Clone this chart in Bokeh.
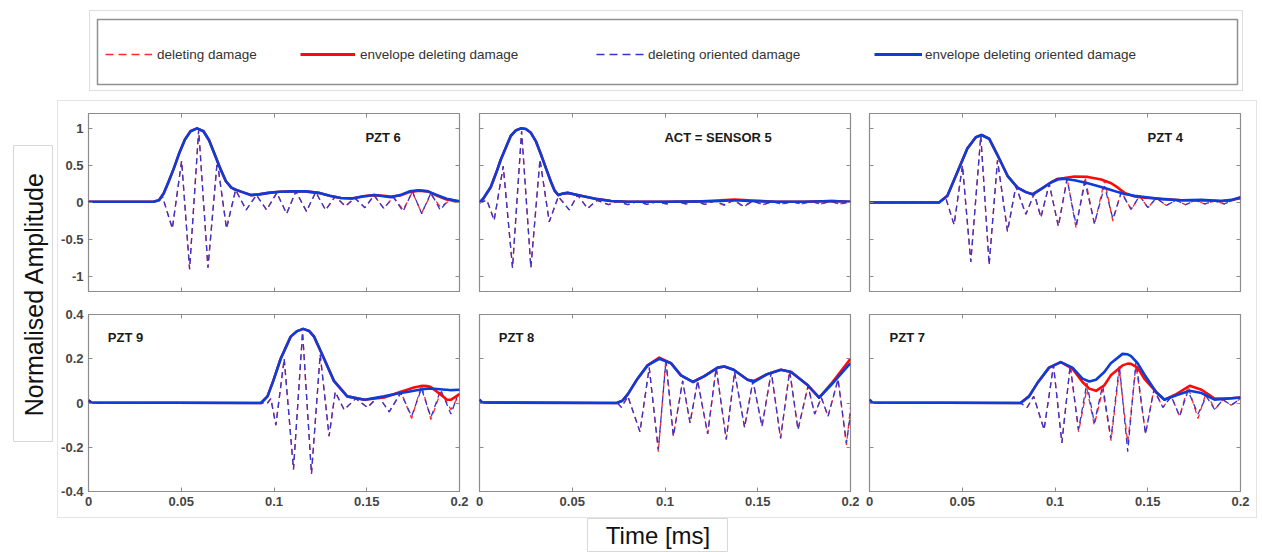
import math
from bokeh.plotting import figure
from bokeh.models import (Range1d, LinearAxis, FixedTicker, NumeralTickFormatter, Label,
                          Legend, LegendItem, Spacer, ColumnDataSource)
from bokeh.layouts import row, column
from bokeh.embed import file_html
from bokeh.resources import INLINE

# ---------------- data ----------------
X_TICKS = [0, 0.05, 0.1, 0.15, 0.2]
Y_TICKS_TOP = [-1, -0.5, 0, 0.5, 1]
Y_TICKS_BOTTOM = [-0.4, -0.2, 0, 0.2, 0.4]
LEGEND_LABELS = ["deleting damage", "envelope deleting damage",
                 "deleting oriented damage", "envelope deleting oriented damage"]
PANEL_TITLES = ["PZT 6", "ACT = SENSOR 5", "PZT 4", "PZT 9", "PZT 8", "PZT 7"]

# PZT 6
PZT6_ENV_T = [0, 0.035, 0.038, 0.0405, 0.043, 0.046, 0.049, 0.052, 0.055, 0.0585, 0.062, 0.065, 0.068,
              0.071, 0.074, 0.077, 0.079, 0.083, 0.0875, 0.092, 0.097, 0.103, 0.110, 0.117, 0.124, 0.130,
              0.136, 0.142, 0.148, 0.154, 0.159, 0.163, 0.168, 0.173, 0.178, 0.183, 0.188, 0.193, 0.2]
PZT6_ENV_BLUE = [0.01, 0.01, 0.03, 0.12, 0.27, 0.46, 0.67, 0.85, 0.96, 1.0, 0.96, 0.84, 0.65, 0.46, 0.29,
                 0.2, 0.175, 0.14, 0.1, 0.11, 0.13, 0.145, 0.15, 0.15, 0.13, 0.09, 0.06, 0.055, 0.08, 0.1,
                 0.085, 0.07, 0.1, 0.15, 0.165, 0.15, 0.1, 0.05, 0.015]
PZT6_ENV_RED = [0.01, 0.01, 0.03, 0.12, 0.27, 0.46, 0.67, 0.85, 0.96, 1.0, 0.96, 0.84, 0.65, 0.46, 0.29,
                0.2, 0.175, 0.14, 0.1, 0.11, 0.13, 0.145, 0.15, 0.15, 0.13, 0.09, 0.06, 0.055, 0.085, 0.1,
                0.09, 0.08, 0.095, 0.14, 0.16, 0.15, 0.09, 0.04, 0.01]
PZT6_SIG_T = [0, 0.036, 0.0400, 0.0452, 0.0502, 0.0545, 0.0594, 0.0644, 0.0694, 0.0744, 0.0793, 0.0850,
              0.0905, 0.0960, 0.1015, 0.1068, 0.1118, 0.1175, 0.1225, 0.1278, 0.1330, 0.1385, 0.1435,
              0.1490, 0.1540, 0.1592, 0.1644, 0.1696, 0.1746, 0.1796, 0.1846, 0.1896, 0.1946, 0.2]
PZT6_SIG_BLUE = [0.01, 0.01, 0.07, -0.35, 0.56, -0.90, 0.98, -0.88, 0.56, -0.35, 0.17, -0.10, 0.10, -0.10,
                 0.13, -0.15, 0.15, -0.12, 0.14, -0.10, 0.08, -0.05, 0.06, -0.07, 0.10, -0.08, 0.07, -0.12,
                 0.15, -0.15, 0.13, -0.10, 0.05, 0.01]
PZT6_SIG_RED = [0.01, 0.01, 0.07, -0.35, 0.56, -0.90, 0.98, -0.88, 0.56, -0.35, 0.17, -0.10, 0.10, -0.10,
                0.13, -0.15, 0.15, -0.12, 0.14, -0.10, 0.08, -0.05, 0.06, -0.07, 0.09, -0.08, 0.08, -0.10,
                0.14, -0.14, 0.11, -0.06, 0.02, 0.0]

# ACT = SENSOR 5
ACT5_ENV_T = [0, 0.002, 0.0061, 0.009, 0.0115, 0.0145, 0.0169, 0.0195, 0.0223, 0.025, 0.0277, 0.0305,
              0.0331, 0.036, 0.0385, 0.0405, 0.0425, 0.045, 0.0475, 0.051, 0.0547, 0.0637, 0.0709, 0.08,
              0.10, 0.12, 0.13, 0.1375, 0.145, 0.16, 0.175, 0.19, 0.2]
ACT5_ENV_BLUE = [0, 0.05, 0.21, 0.40, 0.58, 0.76, 0.90, 0.97, 1.0, 0.99, 0.94, 0.82, 0.65, 0.45, 0.28,
                 0.16, 0.10, 0.12, 0.13, 0.11, 0.09, 0.045, 0.02, 0.01, 0.01, 0.015, 0.02, 0.03, 0.02,
                 0.01, 0.01, 0.02, 0.01]
ACT5_ENV_RED = [0, 0.05, 0.21, 0.40, 0.58, 0.76, 0.90, 0.97, 1.0, 0.99, 0.94, 0.82, 0.65, 0.45, 0.28,
                0.16, 0.10, 0.12, 0.13, 0.11, 0.09, 0.045, 0.02, 0.01, 0.01, 0.015, 0.03, 0.04, 0.03,
                0.01, 0.01, 0.02, 0.01]
ACT5_SIG_T = [0, 0.004, 0.0079, 0.0128, 0.0178, 0.0227, 0.0277, 0.0326, 0.0376, 0.0425, 0.0484, 0.0529,
              0.0583, 0.0634, 0.0695, 0.0747, 0.0799, 0.0851, 0.0903, 0.0955, 0.1007, 0.1059, 0.1111,
              0.1163, 0.1215, 0.1267, 0.1319, 0.1371, 0.1423, 0.1475, 0.1527, 0.1579, 0.1631, 0.1683,
              0.1735, 0.1787, 0.1839, 0.1891, 0.1943, 0.2]
ACT5_SIG_BLUE = [0.0, 0.03, -0.24, 0.49, -0.88, 0.96, -0.88, 0.58, -0.26, 0.08, -0.10, 0.10, -0.08, 0.03,
                 -0.03, 0.015, -0.03, 0.015, -0.025, 0.01, -0.02, 0.015, -0.02, 0.015, -0.025, 0.02, -0.03,
                 0.03, -0.05, 0.02, -0.03, 0.01, -0.02, 0.01, -0.02, 0.015, -0.02, 0.015, -0.02, 0.01]
ACT5_SIG_RED = [0.0, 0.03, -0.24, 0.49, -0.88, 0.96, -0.88, 0.58, -0.26, 0.08, -0.10, 0.10, -0.08, 0.03,
                -0.03, 0.015, -0.03, 0.015, -0.025, 0.01, -0.02, 0.015, -0.02, 0.015, -0.025, 0.02, -0.04,
                0.035, -0.06, 0.02, -0.03, 0.01, -0.02, 0.01, -0.02, 0.015, -0.02, 0.015, -0.02, 0.01]

# PZT 4
PZT4_ENV_T = [0, 0.0375, 0.042, 0.0474, 0.0528, 0.0573, 0.0604, 0.0645, 0.069, 0.0744, 0.0798, 0.0843,
              0.0879, 0.0924, 0.0978, 0.1015, 0.105, 0.1105, 0.1177, 0.1249, 0.1303, 0.1339, 0.1375,
              0.1429, 0.1483, 0.1573, 0.1681, 0.1789, 0.1897, 0.1951, 0.2]
PZT4_ENV_BLUE = [0.0, 0.0, 0.09, 0.41, 0.73, 0.88, 0.91, 0.86, 0.64, 0.36, 0.2, 0.14, 0.11, 0.18, 0.27,
                 0.31, 0.32, 0.30, 0.26, 0.21, 0.17, 0.14, 0.115, 0.09, 0.075, 0.045, 0.03, 0.035, 0.02,
                 0.035, 0.07]
PZT4_ENV_RED = [0.0, 0.0, 0.09, 0.41, 0.73, 0.88, 0.91, 0.86, 0.64, 0.36, 0.2, 0.14, 0.11, 0.18, 0.27,
                0.32, 0.33, 0.35, 0.345, 0.31, 0.26, 0.2, 0.13, 0.08, 0.065, 0.05, 0.03, 0.03, 0.02, 0.03,
                0.06]
PZT4_SIG_T = [0, 0.0375, 0.0410, 0.0456, 0.0501, 0.0546, 0.0600, 0.0645, 0.0690, 0.0744, 0.0789, 0.0843,
              0.0888, 0.0924, 0.0969, 0.1018, 0.1065, 0.1114, 0.1162, 0.1213, 0.1267, 0.1312, 0.1357,
              0.1411, 0.1456, 0.1501, 0.1546, 0.1600, 0.1652, 0.1704, 0.1756, 0.1808, 0.1860, 0.1912,
              0.1964, 0.2]
PZT4_SIG_BLUE = [0, 0, 0.07, -0.30, 0.50, -0.80, 0.90, -0.84, 0.57, -0.39, 0.22, -0.16, 0.12, -0.20, 0.25,
                 -0.32, 0.31, -0.30, 0.27, -0.28, 0.22, -0.22, 0.13, -0.09, 0.09, -0.07, 0.06, -0.04, 0.03,
                 -0.03, 0.03, -0.02, 0.02, -0.02, 0.04, 0.05]
PZT4_SIG_RED = [0, 0, 0.07, -0.30, 0.50, -0.80, 0.90, -0.84, 0.57, -0.39, 0.22, -0.16, 0.12, -0.20, 0.25,
                -0.32, 0.33, -0.35, 0.34, -0.30, 0.30, -0.25, 0.15, -0.10, 0.09, -0.07, 0.06, -0.04, 0.03,
                -0.03, 0.03, -0.02, 0.02, -0.02, 0.04, 0.05]

# PZT 9
PZT9_ENV_T = [0, 0.0015, 0.093, 0.0965, 0.0996, 0.1036, 0.109, 0.1125, 0.1157, 0.119, 0.1216, 0.127,
              0.1323, 0.1395, 0.1488, 0.1593, 0.168, 0.1718, 0.1754, 0.18, 0.1826, 0.1845, 0.188, 0.1925,
              0.1933, 0.1955, 0.2]
PZT9_ENV_BLUE = [0.012, 0.002, 0.0, 0.03, 0.1, 0.2, 0.3, 0.325, 0.335, 0.325, 0.3, 0.2, 0.1, 0.03, 0.015,
                 0.03, 0.045, 0.05, 0.055, 0.062, 0.065, 0.065, 0.063, 0.06, 0.06, 0.058, 0.06]
PZT9_ENV_RED = [0.012, 0.002, 0.0, 0.03, 0.1, 0.2, 0.3, 0.325, 0.335, 0.325, 0.3, 0.2, 0.1, 0.03, 0.015,
                0.025, 0.05, 0.06, 0.07, 0.078, 0.077, 0.072, 0.05, 0.02, 0.015, 0.015, 0.04]
PZT9_SIG_T = [0, 0.0015, 0.0965, 0.0983, 0.1010, 0.1055, 0.1105, 0.1154, 0.1202, 0.1249, 0.1297, 0.1330,
              0.1378, 0.1441, 0.1504, 0.1563, 0.1621, 0.1684, 0.1742, 0.1795, 0.1846, 0.1899, 0.1954, 0.2]
PZT9_SIG_BLUE = [0.012, 0.0, 0.0, 0.02, -0.10, 0.20, -0.30, 0.32, -0.32, 0.22, -0.15, 0.05, -0.03, 0.02,
                 -0.02, 0.03, -0.04, 0.045, -0.06, 0.065, -0.065, 0.06, -0.05, 0.06]
PZT9_SIG_RED = [0.012, 0.0, 0.0, 0.02, -0.10, 0.20, -0.30, 0.32, -0.32, 0.22, -0.15, 0.05, -0.03, 0.02,
                -0.02, 0.03, -0.04, 0.05, -0.07, 0.08, -0.075, 0.05, -0.03, 0.04]

# PZT 8
PZT8_ENV_T = [0, 0.0015, 0.074, 0.077, 0.080, 0.0852, 0.0906, 0.0969, 0.1032, 0.1086, 0.115, 0.121,
              0.1284, 0.132, 0.137, 0.1445, 0.148, 0.155, 0.1625, 0.168, 0.177, 0.1831, 0.1894, 0.2]
PZT8_ENV_BLUE = [0.015, 0.002, 0.0, 0.01, 0.04, 0.11, 0.17, 0.2, 0.18, 0.125, 0.095, 0.12, 0.16, 0.165,
                 0.15, 0.105, 0.095, 0.13, 0.15, 0.14, 0.08, 0.024, 0.08, 0.18]
PZT8_ENV_RED = [0.015, 0.002, 0.0, 0.01, 0.04, 0.11, 0.17, 0.205, 0.18, 0.125, 0.095, 0.12, 0.16, 0.165,
                0.15, 0.105, 0.1, 0.13, 0.15, 0.14, 0.08, 0.024, 0.085, 0.2]
PZT8_SIG_T = [0, 0.0015, 0.0744, 0.0765, 0.0800, 0.0865, 0.0915, 0.0964, 0.1005, 0.1045, 0.1095, 0.1135,
              0.1176, 0.1230, 0.1276, 0.1330, 0.1375, 0.1429, 0.1474, 0.1523, 0.1573, 0.1623, 0.1672,
              0.1717, 0.1771, 0.1807, 0.1843, 0.1879, 0.1933, 0.1978, 0.2]
PZT8_SIG_BLUE = [0.015, 0.0, 0.0, -0.02, 0.03, -0.13, 0.16, -0.21, 0.19, -0.15, 0.10, -0.09, 0.10, -0.14,
                 0.16, -0.165, 0.14, -0.11, 0.10, -0.105, 0.14, -0.16, 0.145, -0.12, 0.077, -0.05, 0.024,
                 -0.06, 0.107, -0.18, -0.05]
PZT8_SIG_RED = [0.015, 0.0, 0.0, -0.02, 0.03, -0.13, 0.16, -0.22, 0.20, -0.15, 0.10, -0.09, 0.10, -0.14,
                0.16, -0.165, 0.14, -0.11, 0.10, -0.105, 0.14, -0.16, 0.145, -0.12, 0.077, -0.05, 0.024,
                -0.06, 0.107, -0.19, -0.02]

# PZT 7
PZT7_ENV_T = [0, 0.0015, 0.0814, 0.086, 0.0905, 0.0968, 0.1031, 0.1094, 0.1148, 0.1185, 0.1221, 0.1266,
              0.1301, 0.1364, 0.1392, 0.141, 0.1445, 0.1481, 0.1545, 0.159, 0.1654, 0.1726, 0.179, 0.186,
              0.1934, 0.2]
PZT7_ENV_BLUE = [0.015, 0.002, 0.0, 0.03, 0.09, 0.16, 0.185, 0.16, 0.11, 0.097, 0.105, 0.14, 0.18, 0.222,
                 0.22, 0.212, 0.18, 0.13, 0.05, 0.015, 0.035, 0.055, 0.045, 0.015, 0.02, 0.025]
PZT7_ENV_RED = [0.015, 0.002, 0.0, 0.03, 0.09, 0.16, 0.185, 0.155, 0.095, 0.065, 0.055, 0.08, 0.125, 0.17,
                0.178, 0.177, 0.16, 0.11, 0.05, 0.015, 0.04, 0.078, 0.06, 0.02, 0.02, 0.025]
PZT7_SIG_T = [0, 0.0015, 0.0814, 0.0850, 0.0885, 0.0941, 0.0992, 0.1037, 0.1082, 0.1127, 0.1172, 0.1212,
              0.1257, 0.1302, 0.1347, 0.1392, 0.1437, 0.1488, 0.1533, 0.1582, 0.1627, 0.1672, 0.1717,
              0.1771, 0.1816, 0.1861, 0.1905, 0.1950, 0.2]
PZT7_SIG_BLUE = [0.015, 0.0, 0.0, -0.02, 0.03, -0.12, 0.17, -0.18, 0.17, -0.12, 0.09, -0.09, 0.08, -0.16,
                 0.17, -0.22, 0.19, -0.14, 0.06, -0.02, 0.03, -0.06, 0.055, -0.05, 0.03, -0.03, 0.015,
                 -0.01, 0.02]
PZT7_SIG_RED = [0.015, 0.0, 0.0, -0.02, 0.03, -0.12, 0.17, -0.18, 0.17, -0.13, 0.065, -0.10, 0.06, -0.17,
                0.15, -0.18, 0.17, -0.14, 0.06, -0.02, 0.03, -0.06, 0.075, -0.07, 0.05, -0.03, 0.015,
                -0.01, 0.02]

# ---------------- styling ----------------
FONT = "Liberation Sans"
RED_DASH = "#ff2a2a"
BLUE_DASH = "#3535d2"
RED_ENV = "#ff0a0a"
BLUE_ENV = "#0c3dd8"
FRAME = "#8c8c8c"
TICKLBL = "#454545"
DASH = "6 4"

FW = 371


def make_axis(ticks, fmt, show):
    ax = LinearAxis(ticker=FixedTicker(ticks=ticks), formatter=NumeralTickFormatter(format=fmt))
    ax.axis_line_color = None
    ax.major_tick_in = 4
    ax.major_tick_out = 0
    ax.major_tick_line_color = FRAME
    ax.major_tick_line_width = 1
    ax.minor_tick_line_color = None
    ax.major_label_standoff = 5
    ax.major_label_text_font = FONT
    ax.major_label_text_font_style = "bold"
    ax.major_label_text_color = TICKLBL
    if show:
        ax.major_label_text_font_size = "13px"
    else:
        ax.major_label_text_font_size = "0px"
        ax.major_label_text_alpha = 0
        ax.major_label_standoff = 0
    return ax


def make_panel(title, title_xy, env_t, env_b, env_r, sig_t, sig_b, sig_r, top_row, col):
    yr = (-1.2, 1.2) if top_row else (-0.4, 0.4)
    yticks = Y_TICKS_TOP if top_row else Y_TICKS_BOTTOM
    bl = [30, 10, 10][col]
    br = [10, 9, 16][col]
    if top_row:
        bt, fh, bb = 12, 178, 11
    else:
        bt, fh, bb = 12, 177, 26
    p = figure(frame_width=FW, frame_height=fh, min_border_left=bl, min_border_right=br,
               min_border_top=bt, min_border_bottom=bb, x_range=Range1d(0, 0.2), y_range=Range1d(*yr),
               x_axis_type=None, y_axis_type=None, output_backend="svg", toolbar_location=None)
    p.outline_line_color = FRAME
    p.outline_line_width = 1.2
    p.background_fill_color = "white"
    p.border_fill_color = "white"
    p.add_layout(make_axis(X_TICKS, "0.[00]", not top_row), "below")
    p.add_layout(make_axis(X_TICKS, "0.[00]", False), "above")
    p.add_layout(make_axis(yticks, "0.[0]", col == 0), "left")
    p.add_layout(make_axis(yticks, "0.[0]", False), "right")

    s = ColumnDataSource(dict(t=sig_t, b=sig_b, r=sig_r))
    e = ColumnDataSource(dict(t=env_t, b=env_b, r=env_r))
    p.line("t", "r", source=s, line_color=RED_DASH, line_width=1.3, line_dash=DASH)
    p.line("t", "b", source=s, line_color=BLUE_DASH, line_width=1.3, line_dash=DASH)
    p.line("t", "r", source=e, line_color=RED_ENV, line_width=2.6, line_join="round")
    p.line("t", "b", source=e, line_color=BLUE_ENV, line_width=2.6, line_join="round")

    p.add_layout(Label(x=title_xy[0], y=title_xy[1], text=title, text_font=FONT,
                       text_font_style="bold", text_font_size="13px", text_color="#1a1a1a",
                       text_baseline="middle", text_align="left"))
    return p


p1 = make_panel(PANEL_TITLES[0], (0.1493, 0.87), PZT6_ENV_T, PZT6_ENV_BLUE, PZT6_ENV_RED,
                PZT6_SIG_T, PZT6_SIG_BLUE, PZT6_SIG_RED, True, 0)
p2 = make_panel(PANEL_TITLES[1], (0.0997, 0.87), ACT5_ENV_T, ACT5_ENV_BLUE, ACT5_ENV_RED,
                ACT5_SIG_T, ACT5_SIG_BLUE, ACT5_SIG_RED, True, 1)
p3 = make_panel(PANEL_TITLES[2], (0.1499, 0.87), PZT4_ENV_T, PZT4_ENV_BLUE, PZT4_ENV_RED,
                PZT4_SIG_T, PZT4_SIG_BLUE, PZT4_SIG_RED, True, 2)
p4 = make_panel(PANEL_TITLES[3], (0.0104, 0.295), PZT9_ENV_T, PZT9_ENV_BLUE, PZT9_ENV_RED,
                PZT9_SIG_T, PZT9_SIG_BLUE, PZT9_SIG_RED, False, 0)
p5 = make_panel(PANEL_TITLES[4], (0.0104, 0.295), PZT8_ENV_T, PZT8_ENV_BLUE, PZT8_ENV_RED,
                PZT8_SIG_T, PZT8_SIG_BLUE, PZT8_SIG_RED, False, 1)
p6 = make_panel(PANEL_TITLES[5], (0.0108, 0.295), PZT7_ENV_T, PZT7_ENV_BLUE, PZT7_ENV_RED,
                PZT7_SIG_T, PZT7_SIG_BLUE, PZT7_SIG_RED, False, 2)

# ---------------- legend box ----------------
# legend sample lines reuse the PZT 6 series, kept outside this figure's visible range
lf = figure(frame_width=1138, frame_height=63, min_border_left=7, min_border_right=7,
            min_border_top=8, min_border_bottom=8, x_range=Range1d(5, 6), y_range=Range1d(5, 6),
            x_axis_type=None, y_axis_type=None, output_backend="svg", toolbar_location=None,
            styles={"border": "1px solid #dedede"})
lf.outline_line_color = "#909090"
lf.outline_line_width = 1.5
r_a = lf.line(x=PZT6_SIG_T, y=PZT6_SIG_RED, line_color=RED_DASH, line_width=1.4, line_dash="8 5")
r_b = lf.line(x=PZT6_ENV_T, y=PZT6_ENV_RED, line_color=RED_ENV, line_width=3)
r_c = lf.line(x=PZT6_SIG_T, y=PZT6_SIG_BLUE, line_color=BLUE_DASH, line_width=1.4, line_dash="8 5")
r_d = lf.line(x=PZT6_ENV_T, y=PZT6_ENV_BLUE, line_color=BLUE_ENV, line_width=3)
for rend, lab, xloc, gw, so in [(r_a, LEGEND_LABELS[0], 8, 47, 5), (r_b, LEGEND_LABELS[1], 203, 55, 5),
                                (r_c, LEGEND_LABELS[2], 499, 49, 3), (r_d, LEGEND_LABELS[3], 777, 48, 3)]:
    lg = Legend(items=[LegendItem(label=lab, renderers=[rend])], location=(xloc, 22),
                orientation="horizontal", padding=0, margin=0, border_line_color=None,
                background_fill_alpha=0, glyph_width=gw, glyph_height=16, label_height=16,
                label_standoff=so, label_text_font=FONT, label_text_font_size="13.5px",
                label_text_color="#333333")
    lf.add_layout(lg)

# ---------------- axis title boxes ----------------
yf = figure(width=40, height=297, min_border=0, x_range=Range1d(0, 1), y_range=Range1d(0, 1),
            x_axis_type=None, y_axis_type=None, output_backend="svg", toolbar_location=None)
yf.outline_line_color = "#d8d8d8"
yf.add_layout(Label(x=0.5, y=0.5, text="Normalised Amplitude", angle=math.pi / 2, text_align="center",
                    text_baseline="middle", text_font=FONT, text_font_size="25px", text_color="#111111"))

xf = figure(width=141, height=34, min_border=0, x_range=Range1d(0, 1), y_range=Range1d(0, 1),
            x_axis_type=None, y_axis_type=None, output_backend="svg", toolbar_location=None)
xf.outline_line_color = "#d8d8d8"
xf.add_layout(Label(x=0.5, y=0.5, text="Time [ms]", text_align="center", text_baseline="middle",
                    text_font=FONT, text_font_size="24px", text_color="#111111"))

panels = column(row(p1, p2, p3), row(p4, p5, p6), styles={"border": "1px solid #e4e4e4"})

layout = column(
    row(Spacer(width=89, height=100), column(Spacer(width=10, height=10), lf, Spacer(width=10, height=9))),
    row(Spacer(width=13, height=10), column(Spacer(width=10, height=45), yf), Spacer(width=4, height=10),
        panels),
    row(Spacer(width=587, height=10), xf),
)

open("out.html", "w").write(file_html(layout, INLINE))
